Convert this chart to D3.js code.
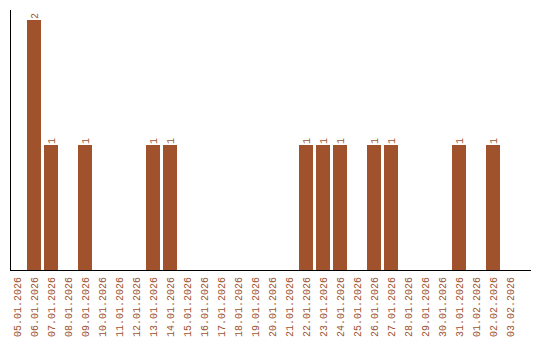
<!DOCTYPE html>
<html><head><meta charset="utf-8">
<script src="https://cdn.jsdelivr.net/npm/d3@7"></script>
<style>body{margin:0;background:#fff}svg{display:block}</style>
</head><body>
<svg id="c" width="540" height="340"></svg>
<script>
const categories = ["05.01.2026","06.01.2026","07.01.2026","08.01.2026","09.01.2026","10.01.2026","11.01.2026","12.01.2026","13.01.2026","14.01.2026","15.01.2026","16.01.2026","17.01.2026","18.01.2026","19.01.2026","20.01.2026","21.01.2026","22.01.2026","23.01.2026","24.01.2026","25.01.2026","26.01.2026","27.01.2026","28.01.2026","29.01.2026","30.01.2026","31.01.2026","01.02.2026","02.02.2026","03.02.2026"];
const values = [0,2,1,0,1,0,0,0,1,1,0,0,0,0,0,0,0,1,1,1,0,1,1,0,0,0,1,0,1,0];

const color = "#a0522d";
const font = "Liberation Mono";
const svg = d3.select("#c");
const x = d3.scaleBand().domain(categories).range([8.5, 518.5]).paddingInner(0.18).paddingOuter(0.09);
const y = d3.scaleLinear().domain([0, 2]).range([270, 20]);
const data = categories.map((c, i) => ({c, v: values[i]}));

svg.selectAll("rect.bar").data(data.filter(d => d.v > 0)).join("rect")
  .attr("class","bar")
  .attr("x", d => Math.round(x(d.c)))
  .attr("width", Math.round(x.bandwidth()))
  .attr("y", d => y(d.v))
  .attr("height", d => y(0) - y(d.v))
  .attr("fill", color);

svg.selectAll("text.val").data(data.filter(d => d.v > 0)).join("text")
  .attr("class","val")
  .attr("transform", d => `translate(${x(d.c) + x.bandwidth()/2},${y(d.v) - 1}) rotate(-90)`)
  .attr("dy", "0.35em")
  .attr("text-anchor", "start")
  .attr("font-family", font)
  .attr("font-size", 10)
  .attr("fill", color)
  .text(d => d.v);

// x axis
const xAxis = svg.append("g").attr("transform", "translate(0,270)");
xAxis.append("line").attr("x1", 10).attr("x2", 531).attr("y1", 0.5).attr("y2", 0.5).attr("stroke", "#000");
xAxis.selectAll("text").data(categories).join("text")
  .attr("transform", d => `translate(${x(d) + x.bandwidth()/2},7) rotate(-90)`)
  .attr("dy", "0.35em")
  .attr("text-anchor", "end")
  .attr("font-family", font)
  .attr("font-size", 10)
  .attr("fill", color)
  .text(d => d);

// y axis
svg.append("line").attr("x1", 10.5).attr("x2", 10.5).attr("y1", 10).attr("y2", 271).attr("stroke", "#000");
</script>
</body></html>
